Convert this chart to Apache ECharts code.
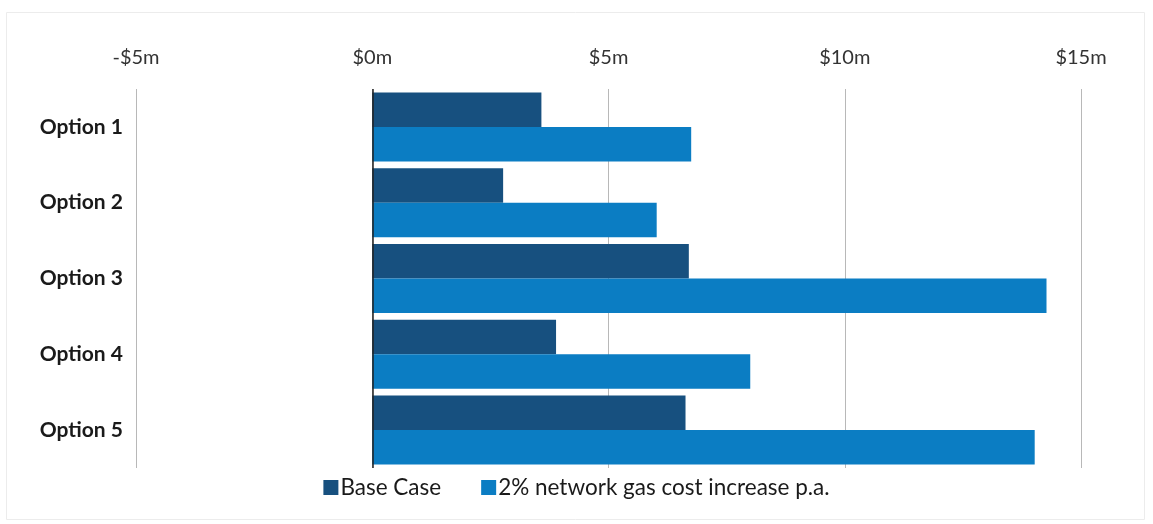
<!DOCTYPE html>
<html>
<head>
<meta charset="utf-8">
<script src="https://cdn.jsdelivr.net/npm/echarts@6/dist/echarts.min.js"></script>
<style>
  html, body { margin: 0; padding: 0; background: #ffffff; }
  #chart { width: 1153px; height: 524px; }
</style>
</head>
<body>
<div id="chart"></div>
<script>
// Options compared (top to bottom)
const categories = ['Option 1', 'Option 2', 'Option 3', 'Option 4', 'Option 5'];
// Values in $ millions
const baseCase = [3.58, 2.77, 6.70, 3.89, 6.63];
const gasIncrease = [6.75, 6.02, 14.27, 8.00, 14.02];
const seriesNames = ['Base Case', '2% network gas cost increase p.a.'];

const font = 'Lato, "Open Sans", sans-serif';
const chart = echarts.init(document.getElementById('chart'), null, { renderer: 'canvas' });

chart.setOption({
  animation: false,
  backgroundColor: '#ffffff',
  graphic: [{
    type: 'rect',
    shape: { x: 6.5, y: 12.5, width: 1138, height: 507 },
    style: { fill: 'none', stroke: '#ececec', lineWidth: 1 },
    silent: true
  }],
  grid: { left: 136, right: 72, top: 89, bottom: 56, containLabel: false },
  legend: {
    data: seriesNames,
    bottom: 20,
    left: 'center',
    itemWidth: 15,
    itemHeight: 15,
    itemGap: 40,
    icon: 'rect',
    textStyle: { fontFamily: font, fontSize: 22.5, color: '#1a1a1a', padding: [0, 0, 0, -3] }
  },
  xAxis: {
    type: 'value',
    position: 'top',
    min: -5,
    max: 15,
    interval: 5,
    axisLine: { show: false },
    axisTick: { show: false },
    splitLine: { show: true, lineStyle: { color: '#b8b8b8', width: 1 } },
    axisLabel: {
      margin: 21,
      fontFamily: font,
      fontSize: 20,
      color: '#333333',
      formatter: v => (v < 0 ? '-$' + Math.abs(v) : '$' + v) + 'm'
    }
  },
  yAxis: {
    type: 'category',
    data: categories,
    inverse: true,
    axisLine: { show: false },
    axisTick: { show: false },
    splitLine: { show: false },
    axisLabel: {
      margin: 13,
      fontFamily: font,
      fontSize: 21,
      fontWeight: 'bold',
      color: '#1a1a1a'
    }
  },
  series: [
    {
      name: seriesNames[0],
      type: 'bar',
      data: baseCase,
      barGap: '0%',
      barCategoryGap: '9%',
      itemStyle: { color: '#17507f' },
      markLine: {
        silent: true,
        symbol: ['none', 'none'],
        label: { show: false },
        lineStyle: { color: '#222222', type: 'solid', width: 1.5 },
        data: [{ xAxis: 0 }]
      }
    },
    {
      name: seriesNames[1],
      type: 'bar',
      data: gasIncrease,
      barGap: '0%',
      barCategoryGap: '9%',
      itemStyle: { color: '#0b7dc3' }
    }
  ]
});
</script>
</body>
</html>
